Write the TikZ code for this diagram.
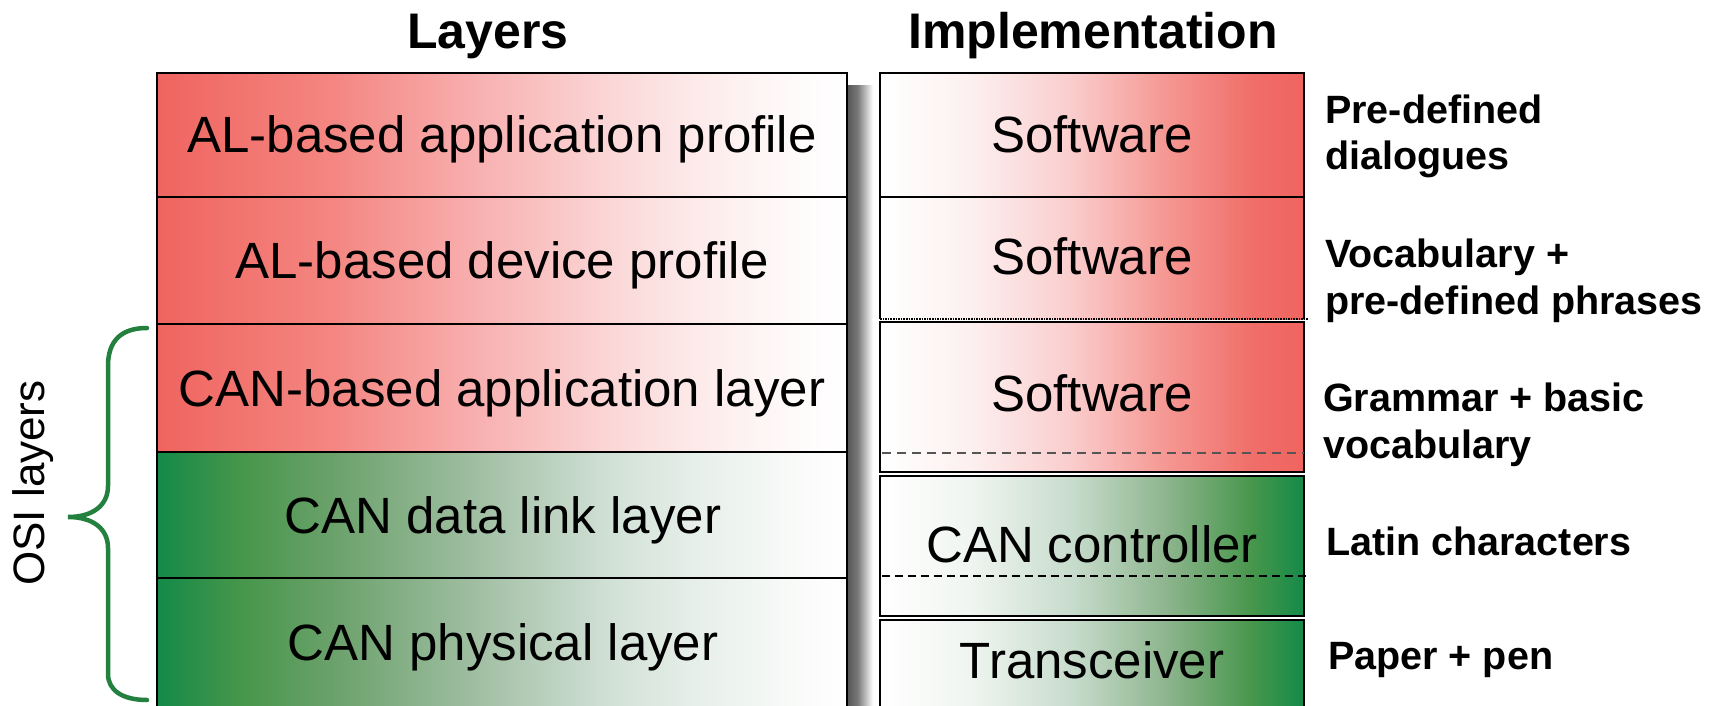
\documentclass[tikz,border=0pt]{standalone}
\usepackage{fontspec}
\setmainfont{Liberation Sans}
\usetikzlibrary{calc}

% horizontal colour ramps; the region 25bp..75bp spans the filled path
\pgfdeclarehorizontalshading{redfade}{100bp}{%
  rgb(0bp)=(0.941,0.392,0.373); rgb(25bp)=(0.941,0.392,0.373);
  rgb(38bp)=(0.957,0.529,0.510); rgb(48bp)=(0.973,0.686,0.686);
  rgb(58bp)=(0.984,0.843,0.843); rgb(64.5bp)=(0.992,0.922,0.922);
  rgb(71bp)=(0.996,0.980,0.980); rgb(75bp)=(1,1,1); rgb(100bp)=(1,1,1)}
\pgfdeclarehorizontalshading{greenfade}{100bp}{%
  rgb(0bp)=(0.078,0.541,0.282); rgb(25bp)=(0.078,0.541,0.282);
  rgb(31bp)=(0.275,0.588,0.294); rgb(38bp)=(0.424,0.635,0.424);
  rgb(48bp)=(0.627,0.745,0.635); rgb(58bp)=(0.824,0.882,0.843);
  rgb(64.5bp)=(0.910,0.941,0.922); rgb(71bp)=(0.973,0.980,0.973);
  rgb(75bp)=(1,1,1); rgb(100bp)=(1,1,1)}
\pgfdeclarehorizontalshading{redrise}{100bp}{%
  rgb(0bp)=(1,1,1); rgb(25bp)=(1,1,1);
  rgb(35.5bp)=(0.992,0.941,0.941); rgb(47.5bp)=(0.980,0.804,0.804);
  rgb(59bp)=(0.961,0.588,0.569); rgb(69bp)=(0.941,0.431,0.412);
  rgb(75bp)=(0.941,0.392,0.373); rgb(100bp)=(0.941,0.392,0.373)}
\pgfdeclarehorizontalshading{greenrise}{100bp}{%
  rgb(0bp)=(1,1,1); rgb(25bp)=(1,1,1);
  rgb(35.5bp)=(0.941,0.961,0.945); rgb(47.5bp)=(0.784,0.863,0.804);
  rgb(59bp)=(0.549,0.706,0.549); rgb(69bp)=(0.275,0.588,0.294);
  rgb(75bp)=(0.078,0.541,0.282); rgb(100bp)=(0.078,0.541,0.282)}
\pgfdeclarehorizontalshading{dropshadow}{100bp}{%
  rgb(0bp)=(0.33,0.33,0.33); rgb(25bp)=(0.33,0.33,0.33);
  rgb(45bp)=(0.47,0.47,0.47); rgb(65bp)=(0.82,0.82,0.82);
  rgb(75bp)=(1,1,1); rgb(100bp)=(1,1,1)}

\definecolor{bracegreen}{RGB}{35,128,62}
\definecolor{dashgray}{RGB}{85,85,85}

\tikzset{
  cell/.style={draw=black, line width=1.8pt, inner sep=0pt, outer sep=0pt,
    anchor=north west, rectangle},
  bare/.style={inner sep=0pt, outer sep=0pt, anchor=north west, rectangle},
  celltext/.style={font=\fontsize{51}{61}\selectfont, anchor=base, inner sep=0pt},
  headtext/.style={font=\bfseries\fontsize{50}{60}\selectfont, anchor=base, inner sep=0pt},
  notetext/.style={font=\bfseries\fontsize{39.5}{47}\selectfont, anchor=base west,
    align=left, inner sep=0pt},
}

\begin{document}
\begin{tikzpicture}[x=1pt,y=-1pt]
\useasboundingbox (0,0) rectangle (1733,706);
\clip (0,0) rectangle (1733,706);
\fill[white] (0,0) rectangle (1733,706);

% column headings
\node[headtext] (hlayers) at (488,49) {Layers};
\node[headtext] (himpl) at (1093,49) {Implementation};

% soft shadow along the right side of the layer stack
\path[shading=dropshadow] (847,86) rectangle (873,712);

% layer stack
\node[cell, shading=redfade, minimum width=690pt, minimum height=124pt] (l1) at (157,73) {};
\node[cell, shading=redfade, minimum width=690pt, minimum height=127pt] (l2) at (157,197) {};
\node[cell, shading=redfade, minimum width=690pt, minimum height=128pt] (l3) at (157,324) {};
\node[cell, shading=greenfade, minimum width=690pt, minimum height=126pt] (l4) at (157,452) {};
\node[cell, shading=greenfade, minimum width=690pt, minimum height=134pt] (l5) at (157,578) {};

\node[celltext] (t1) at (502,153) {AL-based application profile};
\node[celltext] (t2) at (502,278) {AL-based device profile};
\node[celltext] (t3) at (502,406) {CAN-based application layer};
\node[celltext] (t4) at (503,533) {CAN data link layer};
\node[celltext] (t5) at (503,660) {CAN physical layer};

% implementation column
\node[cell, shading=redrise, minimum width=424pt, minimum height=124pt] (r1) at (880,73) {};
\node[bare, shading=redrise, minimum width=424pt, minimum height=122pt] (r2) at (880,197) {};
\draw[line width=1.8pt] (r2.south west) -- (r2.north west) -- (r2.north east) -- (r2.south east);
\draw[line width=1.6pt, densely dotted] (r2.south west) -- ($(r2.south east)+(4,0)$);
\node[cell, shading=redrise, minimum width=424pt, minimum height=150pt] (r3) at (880,322) {};
\draw[dashgray, line width=2.6pt, dash pattern=on 9pt off 6pt]
  ($(r3.south west)+(2,-19)$) -- ($(r3.south east)+(0,-19)$);
\node[cell, shading=greenrise, minimum width=424pt, minimum height=140pt] (r4) at (880,476) {};
\draw[line width=1.5pt, dash pattern=on 8pt off 5pt]
  ($(r4.south west)+(2,-40)$) -- ($(r4.south east)+(4,-40)$);
\node[cell, shading=greenrise, minimum width=424pt, minimum height=92pt] (r5) at (880,620) {};

\node[celltext] (s1) at (1092,153) {Software};
\node[celltext] (s2) at (1092,274) {Software};
\node[celltext] (s3) at (1092,411) {Software};
\node[celltext] (s4) at (1092,562) {CAN controller};
\node[celltext] (s5) at (1092,678) {Transceiver};

% language analogy (anchored at the baseline of the last line)
\node[notetext] (n1) at (1325,170) {Pre-defined\\dialogues};
\node[notetext] (n2) at (1325,314) {Vocabulary +\\pre-defined phrases};
\node[notetext] (n3) at (1323,458) {Grammar + basic\\vocabulary};
\node[notetext] (n4) at (1326,555) {Latin characters};
\node[notetext] (n5) at (1328,669) {Paper + pen};

% OSI bracket
\draw[bracegreen, line width=4.5pt, line cap=round]
  (147,328) .. controls (122,328) and (108,340) .. (108,366) -- (108,486)
  .. controls (108,506) and (92,517) .. (68,517)
  .. controls (92,517) and (108,528) .. (108,548) -- (108,674)
  .. controls (108,690) and (122,700) .. (147,700);
\node[font=\fontsize{44}{52}\selectfont, rotate=90, anchor=base, inner sep=0pt]
  (osi) at (44,483) {OSI layers};
\end{tikzpicture}
\end{document}
